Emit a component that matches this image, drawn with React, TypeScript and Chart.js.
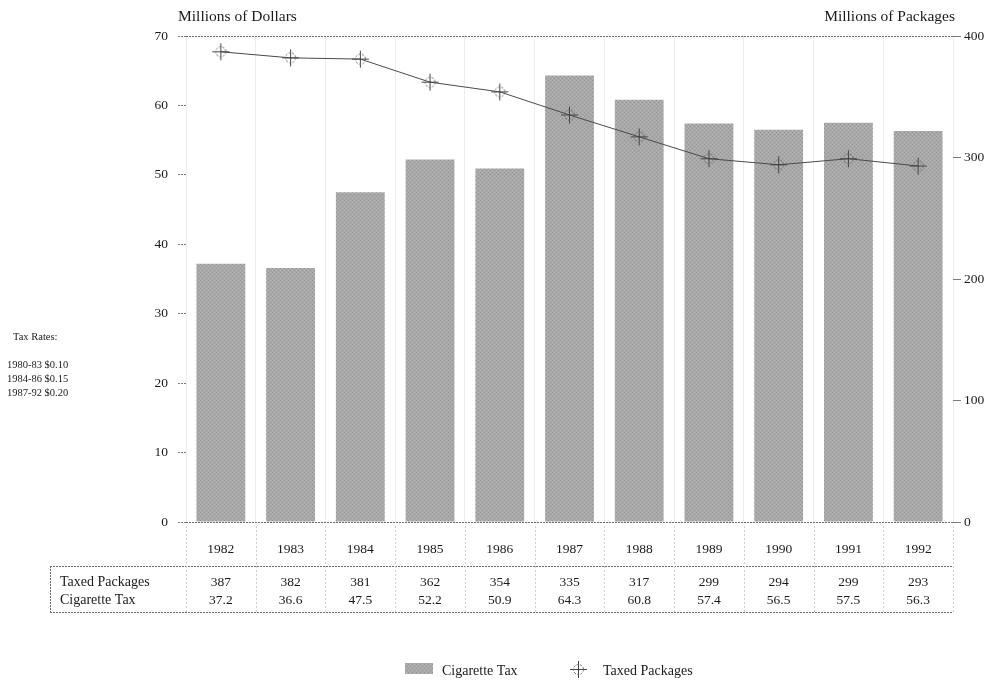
import React, { useEffect, useRef } from "react";
import { Chart, registerables } from "chart.js";

Chart.register(...registerables);

const years = ["1982", "1983", "1984", "1985", "1986", "1987", "1988", "1989", "1990", "1991", "1992"];
const cigaretteTax = [37.2, 36.6, 47.5, 52.2, 50.9, 64.3, 60.8, 57.4, 56.5, 57.5, 56.3];
const taxedPackages = [387, 382, 381, 362, 354, 335, 317, 299, 294, 299, 293];
const taxRateNotes = ["1980-83 $0.10", "1984-86 $0.15", "1987-92 $0.20"];
const taxedPackagesLabels = ["387", "382", "381", "362", "354", "335", "317", "299", "294", "299", "293"];
const cigaretteTaxLabels = ["37.2", "36.6", "47.5", "52.2", "50.9", "64.3", "60.8", "57.4", "56.5", "57.5", "56.3"];

const FONT = '"Liberation Serif", "DejaVu Serif", "Times New Roman", serif';

function makePattern(): CanvasPattern | string {
  const c = document.createElement("canvas");
  c.width = 4;
  c.height = 4;
  const g = c.getContext("2d");
  if (!g) return "#a6a6a6";
  g.fillStyle = "#a8a8a8";
  g.fillRect(0, 0, 4, 4);
  g.fillStyle = "#949494";
  g.fillRect(0, 0, 1, 1);
  g.fillRect(2, 2, 1, 1);
  g.fillStyle = "#b8b8b8";
  g.fillRect(2, 0, 1, 1);
  g.fillRect(0, 2, 1, 1);
  const p = g.createPattern(c, "repeat");
  return p || "#a6a6a6";
}

function makeMarker(): HTMLCanvasElement {
  const c = document.createElement("canvas");
  c.width = 19;
  c.height = 19;
  const g = c.getContext("2d")!;
  g.strokeStyle = "#444";
  g.lineWidth = 1;
  g.beginPath();
  g.moveTo(1, 9.5);
  g.lineTo(18, 9.5);
  g.moveTo(9.5, 1);
  g.lineTo(9.5, 18);
  g.stroke();
  g.strokeStyle = "#666";
  g.setLineDash([2, 1.5]);
  g.beginPath();
  g.arc(9.5, 9.5, 5, 0, Math.PI * 2);
  g.stroke();
  return c;
}

export default function App() {
  const ref = useRef<HTMLCanvasElement | null>(null);

  useEffect(() => {
    const canvas = ref.current;
    if (!canvas) return;
    const pattern = makePattern();
    const marker = makeMarker();

    const overlay = {
      id: "overlay",
      afterDraw(chart: any) {
        const ctx = chart.ctx as CanvasRenderingContext2D;
        const xs = chart.scales.x;
        const area = chart.chartArea;
        ctx.save();
        ctx.fillStyle = "#1a1a1a";
        ctx.textBaseline = "middle";

        // axis titles
        ctx.font = `15.5px ${FONT}`;
        ctx.textAlign = "left";
        ctx.fillText("Millions of Dollars", 178, 17);
        ctx.textAlign = "right";
        ctx.fillText("Millions of Packages", 955, 17);

        // tax rates note
        ctx.font = `10.5px ${FONT}`;
        ctx.textAlign = "left";
        ctx.fillText("Tax Rates:", 13, 337);
        taxRateNotes.forEach((t, i) => ctx.fillText(t, 7, 365 + i * 14));

        // year labels and table values
        ctx.font = `13.5px ${FONT}`;
        ctx.textAlign = "center";
        years.forEach((y, i) => {
          const x = xs.getPixelForValue(i);
          ctx.fillText(y, x, 549);
          ctx.fillText(taxedPackagesLabels[i], x, 582);
          ctx.fillText(cigaretteTaxLabels[i], x, 600);
        });
        ctx.font = `14px ${FONT}`;
        ctx.textAlign = "left";
        ctx.fillText("Taxed Packages", 60, 582);
        ctx.fillText("Cigarette Tax", 60, 600);

        // table lines
        ctx.setLineDash([2, 1]);
        ctx.strokeStyle = "#6a6a6a";
        ctx.lineWidth = 1;
        ctx.beginPath();
        ctx.moveTo(50, 566.5);
        ctx.lineTo(area.right, 566.5);
        ctx.moveTo(50, 612.5);
        ctx.lineTo(area.right, 612.5);
        ctx.moveTo(50.5, 566);
        ctx.lineTo(50.5, 612);
        ctx.stroke();
        ctx.strokeStyle = "#cfcfcf";
        ctx.setLineDash([2, 2]);
        ctx.beginPath();
        const step = xs.getPixelForValue(1) - xs.getPixelForValue(0);
        for (let i = 0; i <= years.length; i++) {
          const x = Math.round(xs.getPixelForValue(0) - step / 2 + i * step) + 0.5;
          ctx.moveTo(x, area.bottom + 4);
          ctx.lineTo(x, 612);
        }
        ctx.stroke();
        ctx.setLineDash([]);

        // legend
        ctx.fillStyle = pattern as any;
        ctx.fillRect(405, 663, 28, 11);
        ctx.drawImage(marker, 569, 660);
        ctx.fillStyle = "#1a1a1a";
        ctx.font = `14px ${FONT}`;
        ctx.textAlign = "left";
        ctx.fillText("Cigarette Tax", 442, 671);
        ctx.fillText("Taxed Packages", 603, 671);
        ctx.restore();
      },
    };

    const chart = new Chart(canvas, {
      type: "bar",
      data: {
        labels: years,
        datasets: [
          {
            type: "line",
            label: "Taxed Packages",
            data: taxedPackages,
            yAxisID: "y2",
            borderColor: "#4a4a4a",
            borderWidth: 1,
            pointStyle: marker as any,
            pointRadius: 9,
            tension: 0,
            order: 0,
          } as any,
          {
            type: "bar",
            label: "Cigarette Tax",
            data: cigaretteTax,
            yAxisID: "y",
            backgroundColor: pattern as any,
            borderWidth: 0,
            barPercentage: 0.7,
            categoryPercentage: 1,
            order: 1,
          },
        ],
      },
      options: {
        responsive: false,
        animation: false,
        layout: { padding: { top: 36, left: 0, right: 0, bottom: 0 } },
        plugins: { legend: { display: false }, tooltip: { enabled: false } },
        scales: {
          x: {
            offset: true,
            ticks: { display: false },
            grid: { offset: true, color: "#ececec", drawTicks: false },
            border: { display: false },
            afterFit: (s: any) => {
              s.height = 159;
            },
          },
          y: {
            position: "left",
            min: 0,
            max: 70,
            ticks: { stepSize: 10, color: "#1a1a1a", font: { family: FONT, size: 13.5 }, padding: 10 },
            grid: {
              color: (c: any) => (c.tick && (c.tick.value === 0 || c.tick.value === 70) ? "#6a6a6a" : "rgba(0,0,0,0)"),
              tickColor: "#7a7a7a",
              tickLength: 8,
              tickBorderDash: [2, 1],
            },
            border: { display: false, dash: [2, 1] },
            afterFit: (s: any) => {
              s.width = 186;
            },
          },
          y2: {
            position: "right",
            min: 0,
            max: 400,
            ticks: { stepSize: 100, color: "#1a1a1a", font: { family: FONT, size: 13.5 }, padding: 3 },
            grid: { drawOnChartArea: false, tickColor: "#7a7a7a", tickLength: 8 },
            border: { display: false },
            afterFit: (s: any) => {
              s.width = 43;
            },
          },
        },
      } as any,
      plugins: [overlay],
    });
    return () => chart.destroy();
  }, []);

  return (
    <div style={{ position: "fixed", left: 0, top: 0, width: 996, height: 681, background: "#fff" }}>
      <canvas ref={ref} width={996} height={681} style={{ display: "block" }} />
    </div>
  );
}
